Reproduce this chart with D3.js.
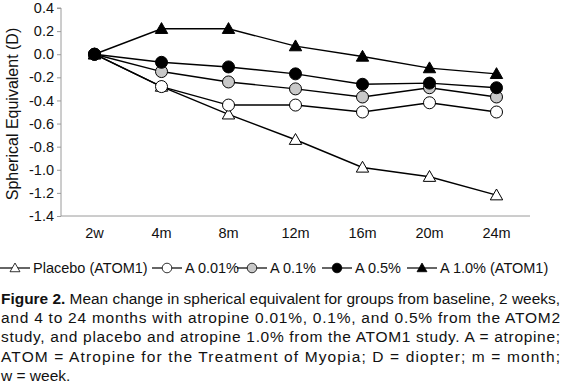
<!DOCTYPE html>
<html>
<head>
<meta charset="utf-8">
<script src="https://cdn.jsdelivr.net/npm/d3@7"></script>
<style>
  body { margin: 0; background: #fff; }
  svg { display: block; font-family: "Liberation Sans", Arial, sans-serif; }
</style>
</head>
<body>
<div id="chart"></div>
<script>
const categories = ["2w", "4m", "8m", "12m", "16m", "20m", "24m"];
const yTicks = [0.4, 0.2, 0.0, -0.2, -0.4, -0.6, -0.8, -1.0, -1.2, -1.4];

const placebo = [0, -0.28, -0.52, -0.74, -0.98, -1.06, -1.22];
const a001 = [0, -0.28, -0.44, -0.44, -0.50, -0.42, -0.50];
const a01 = [0, -0.15, -0.24, -0.30, -0.37, -0.29, -0.37];
const a05 = [0, -0.07, -0.11, -0.17, -0.26, -0.25, -0.29];
const a10 = [0, 0.22, 0.22, 0.07, -0.02, -0.12, -0.17];

const seriesNames = ["Placebo (ATOM1)", "A 0.01%", "A 0.1%", "A 0.5%", "A 1.0% (ATOM1)"];
const seriesValues = [placebo, a001, a01, a05, a10];

const captionLines = [
  ["Figure 2.", " Mean change in spherical equivalent for groups from baseline, 2 weeks,"],
  ["", "and 4 to 24 months with atropine 0.01%, 0.1%, and 0.5% from the ATOM2"],
  ["", "study, and placebo and atropine 1.0% from the ATOM1 study. A = atropine;"],
  ["", "ATOM = Atropine for the Treatment of Myopia; D = diopter; m = month;"],
  ["", "w = week."]
];

/**
 * Styling per series (marker shape and fill).
 */
const markerStyle = [
  { shape: "triangle", fill: "#fff" },
  { shape: "circle", fill: "#fff" },
  { shape: "circle", fill: "#c8c8c8" },
  { shape: "circle", fill: "#000" },
  { shape: "triangle", fill: "#000" }
];

const width = 562, height = 388;
const plot = { left: 61, right: 530, top: 8, bottom: 216 };

const svg = d3.select("#chart").append("svg")
  .attr("width", width)
  .attr("height", height);

const x = d3.scaleBand()
  .domain(categories)
  .range([plot.left, plot.right]);

const y = d3.scaleLinear()
  .domain([-1.4, 0.4])
  .range([plot.bottom, plot.top]);

const xc = d => x(d) + x.bandwidth() / 2;

// axes
const yAxis = svg.append("g")
  .attr("transform", `translate(${plot.left},0)`)
  .call(d3.axisLeft(y).tickValues(yTicks).tickSize(4).tickPadding(3).tickFormat(d3.format(".1f")));
yAxis.select(".domain").attr("stroke", "#9a9a9a").attr("d", `M-4,${plot.top}H0V${plot.bottom}`);
yAxis.selectAll(".tick line").attr("stroke", "#9a9a9a");
yAxis.selectAll(".tick text")
  .attr("font-size", 14.5)
  .attr("fill", "#111")
  .text(d => d3.format(".1f")(d).replace("−", "-"));

const xAxis = svg.append("g")
  .attr("transform", `translate(0,${plot.bottom})`)
  .call(d3.axisBottom(x).tickSize(0).tickPadding(12));
xAxis.select(".domain").attr("stroke", "#9a9a9a").attr("d", `M${plot.left},0H${plot.right}`);
xAxis.selectAll(".tick text").attr("font-size", 14.5).attr("fill", "#111");

svg.append("text")
  .attr("transform", `translate(18,${(plot.top + plot.bottom) / 2 + 2}) rotate(-90)`)
  .attr("text-anchor", "middle")
  .attr("font-size", 16)
  .attr("fill", "#111")
  .text("Spherical Equivalent (D)");

// markers
const drawMarker = (g, style, cx, cy) => {
  if (style.shape === "circle") {
    g.append("circle")
      .attr("cx", cx).attr("cy", cy).attr("r", 6)
      .attr("fill", style.fill).attr("stroke", "#000").attr("stroke-width", 1);
  } else {
    const s = 6.2;
    g.append("path")
      .attr("d", `M${cx},${cy - s}L${cx + s},${cy + s * 0.75}L${cx - s},${cy + s * 0.75}Z`)
      .attr("fill", style.fill).attr("stroke", "#000").attr("stroke-width", 1);
  }
};

const line = d3.line()
  .x((d, i) => xc(categories[i]))
  .y(d => y(d));

const seriesG = svg.append("g").attr("class", "series");
seriesValues.forEach((vals, k) => {
  seriesG.append("path")
    .attr("d", line(vals))
    .attr("fill", "none")
    .attr("stroke", "#000")
    .attr("stroke-width", 1.4);
});
seriesValues.forEach((vals, k) => {
  const g = seriesG.append("g");
  vals.forEach((v, i) => drawMarker(g, markerStyle[k], xc(categories[i]), y(v)));
});

// legend
const legend = svg.append("g").attr("class", "legend");
const legendY = 268;
const legendStarts = [0, 152, 237, 322, 407];
seriesNames.forEach((name, k) => {
  const lx = legendStarts[k];
  const g = legend.append("g");
  g.append("line")
    .attr("x1", lx).attr("x2", lx + 30)
    .attr("y1", legendY).attr("y2", legendY)
    .attr("stroke", "#000").attr("stroke-width", 1.2);
  const m = g.append("g").attr("transform", `translate(${lx + 15},${legendY}) scale(0.8) translate(${-(lx + 15)},${-legendY})`);
  drawMarker(m, markerStyle[k], lx + 15, legendY);
  g.append("text")
    .attr("x", lx + 33)
    .attr("y", legendY + 5)
    .attr("font-size", 14.5)
    .attr("fill", "#111")
    .text(name);
});

// caption
const caption = svg.append("g").attr("class", "caption");
captionLines.forEach((parts, i) => {
  const t = caption.append("text")
    .attr("x", 1)
    .attr("y", 304 + i * 19.2)
    .attr("font-size", 15.5)
    .attr("fill", "#111");
  if (parts[0]) t.append("tspan").attr("font-weight", "bold").text(parts[0]);
  t.append("tspan").text(parts[1]);
  if (i < captionLines.length - 1) {
    t.attr("textLength", 559).attr("lengthAdjust", i === 0 ? "spacingAndGlyphs" : "spacing");
  }
});
</script>
</body>
</html>
